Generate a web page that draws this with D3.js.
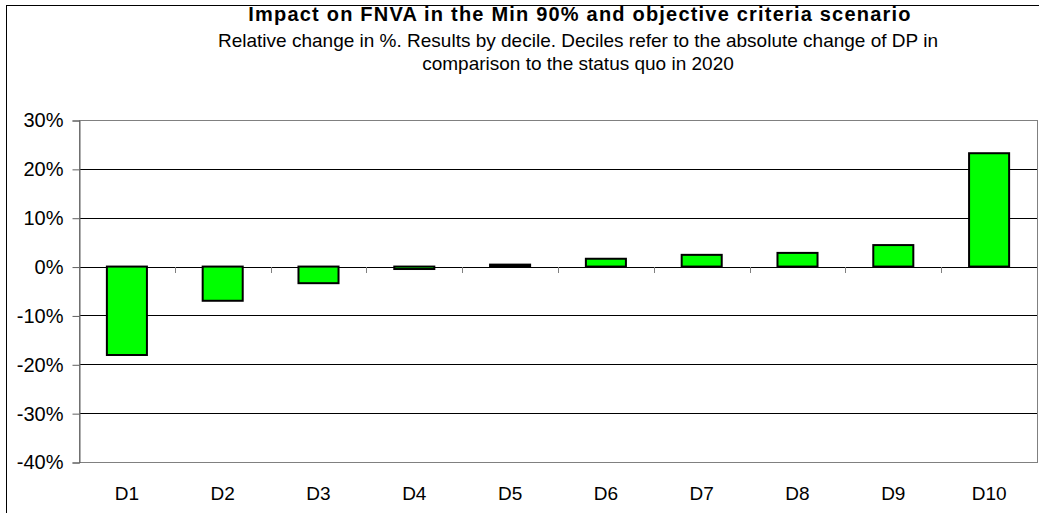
<!DOCTYPE html>
<html>
<head>
<meta charset="utf-8">
<script src="https://cdn.jsdelivr.net/npm/d3@7/dist/d3.min.js"></script>
<style>
  body { margin: 0; background: #fff; }
  text { font-family: "Liberation Sans", Arial, sans-serif; fill: #000; }
</style>
</head>
<body>
<div id="chart"></div>
<script>
// Chart data
var deciles = ["D1", "D2", "D3", "D4", "D5", "D6", "D7", "D8", "D9", "D10"];
var changePct = [-18.1, -7.0, -3.4, -0.5, 0.4, 1.6, 2.4, 2.8, 4.4, 23.2];
var yTicks = [-40, -30, -20, -10, 0, 10, 20, 30];
var titleText = "Impact on FNVA in the Min 90% and objective criteria scenario";
var subtitleLines = [
  "Relative change in %. Results by decile. Deciles refer to the absolute change of DP in",
  "comparison to the status quo in 2020"
];

var svgWidth = 1039;
var svgHeight = 513;

// plot area inside the canvas
var plot = { left: 79, right: 1037, top: 120, bottom: 462 };

var svg = d3.select("#chart")
  .append("svg")
  .attr("width", svgWidth)
  .attr("height", svgHeight);

// outer chart frame (runs off the right and bottom of the picture)
svg.append("rect")
  .attr("x", 6.5)
  .attr("y", 5.5)
  .attr("width", svgWidth + 20)
  .attr("height", svgHeight + 20)
  .attr("fill", "none")
  .attr("stroke", "#000")
  .attr("stroke-width", 1);

// Titles
svg.append("text")
  .attr("x", 580)
  .attr("y", 21)
  .attr("text-anchor", "middle")
  .attr("font-weight", "bold")
  .style("font-size", "20px")
  .style("letter-spacing", "1.2px")
  .text(titleText);

svg.selectAll(".subtitle")
  .data(subtitleLines)
  .enter()
  .append("text")
  .attr("class", "subtitle")
  .attr("x", 578)
  .attr("y", (d, i) => 47 + i * 23)
  .attr("text-anchor", "middle")
  .style("font-size", "19px")
  .text(d => d);

// Scales
var xScale = d3.scaleBand()
  .domain(deciles)
  .range([plot.left, plot.right])
  .paddingInner(0.582)
  .paddingOuter(0.291);

var yScale = d3.scaleLinear()
  .domain([-40, 30])
  .range([plot.bottom, plot.top]);

// Gridlines (inner ones black)
svg.selectAll(".grid")
  .data(yTicks.filter(t => t > -40 && t < 30))
  .enter()
  .append("line")
  .attr("x1", plot.left)
  .attr("x2", plot.right)
  .attr("y1", d => Math.round(yScale(d)) + 0.5)
  .attr("y2", d => Math.round(yScale(d)) + 0.5)
  .attr("stroke", "#000")
  .attr("stroke-width", 1);

// Plot area border
svg.append("rect")
  .attr("x", plot.left + 0.5)
  .attr("y", Math.round(plot.top) + 0.5)
  .attr("width", plot.right - plot.left)
  .attr("height", plot.bottom - plot.top)
  .attr("fill", "none")
  .attr("stroke", "#808080")
  .attr("stroke-width", 1);

// Y axis
var leftAxis = d3.axisLeft(yScale)
  .tickValues(yTicks)
  .tickSize(7)
  .tickPadding(9)
  .tickFormat(d => d + "%");

var yAxisG = svg.append("g")
  .attr("transform", `translate(${plot.left + 0.5}, 0.5)`)
  .call(leftAxis);
yAxisG.select(".domain").attr("stroke", "#606060");
yAxisG.selectAll(".tick line").attr("stroke", "#606060");
yAxisG.selectAll(".tick text")
  .style("font-size", "20px")
  .style("font-family", "'Liberation Sans', Arial, sans-serif")
  .attr("fill", "#000");

// Category separator ticks on the zero line
var step = xScale.step();
svg.selectAll(".xtick")
  .data(deciles.slice(1))
  .enter()
  .append("line")
  .attr("x1", d => Math.round(xScale(d) - xScale.paddingInner() * step / 2) + 0.5)
  .attr("x2", d => Math.round(xScale(d) - xScale.paddingInner() * step / 2) + 0.5)
  .attr("y1", Math.round(yScale(0)))
  .attr("y2", Math.round(yScale(0)) + 6)
  .attr("stroke", "#808080")
  .attr("stroke-width", 1);

// Bars
svg.selectAll(".bar")
  .data(changePct)
  .enter()
  .append("rect")
  .attr("class", "bar")
  .attr("x", (d, i) => xScale(deciles[i]))
  .attr("width", xScale.bandwidth())
  .attr("y", d => yScale(Math.max(d, 0)))
  .attr("height", d => Math.abs(yScale(d) - yScale(0)))
  .attr("fill", "#00ff00")
  .attr("stroke", "#000")
  .attr("stroke-width", 2);

// Category labels
svg.selectAll(".xlabel")
  .data(deciles)
  .enter()
  .append("text")
  .attr("class", "xlabel")
  .attr("x", d => xScale(d) + xScale.bandwidth() / 2)
  .attr("y", 500)
  .attr("text-anchor", "middle")
  .style("font-size", "19px")
  .text(d => d);
</script>
</body>
</html>
